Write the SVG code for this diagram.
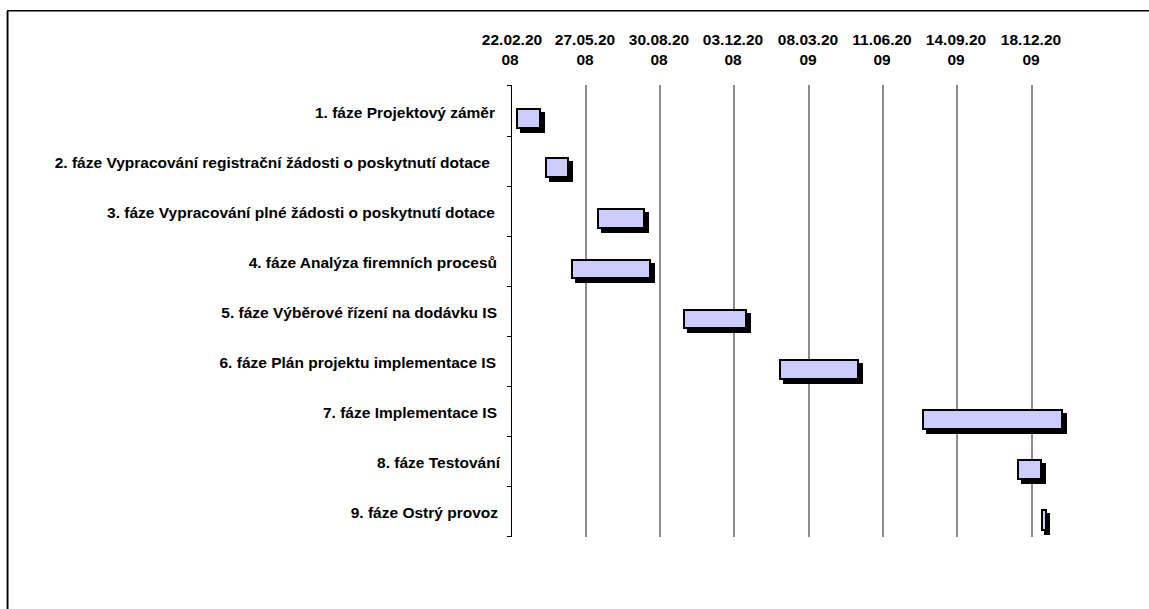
<svg xmlns="http://www.w3.org/2000/svg" width="1149" height="609" viewBox="0 0 1149 609">
  <style>
    .lbl { font-family: "Liberation Sans", Arial, sans-serif; font-weight: bold; font-size: 15.5px; fill: #000; }
    .task { text-anchor: end; }
    .date { text-anchor: middle; }
    .grid { stroke: #404040; stroke-width: 1.2; }
    .axis { stroke: #000; stroke-width: 1; }
    .bar { fill: #CCCCFF; stroke: #000; stroke-width: 2; }
    .shadow { fill: #000; }
  </style>

  <rect x="0" y="0" width="1149" height="609" fill="#fff"/>

  <!-- chart frame (continues past the right and bottom edges) -->
  <line x1="6.5" y1="11" x2="6.5" y2="609" stroke="#999" stroke-width="1"/>
  <rect x="7.75" y="10.75" width="1200" height="700" fill="none" stroke="#000" stroke-width="1.5"/>

  <!-- time scale labels -->
  <g id="timescale">
    <text class="lbl date" x="512" y="45">22.02.20</text><text class="lbl date" x="510" y="65">08</text>
    <text class="lbl date" x="585" y="45">27.05.20</text><text class="lbl date" x="585" y="65">08</text>
    <text class="lbl date" x="659" y="45">30.08.20</text><text class="lbl date" x="659" y="65">08</text>
    <text class="lbl date" x="733" y="45">03.12.20</text><text class="lbl date" x="733" y="65">08</text>
    <text class="lbl date" x="808" y="45">08.03.20</text><text class="lbl date" x="808" y="65">09</text>
    <text class="lbl date" x="882" y="45">11.06.20</text><text class="lbl date" x="882" y="65">09</text>
    <text class="lbl date" x="956" y="45">14.09.20</text><text class="lbl date" x="956" y="65">09</text>
    <text class="lbl date" x="1031" y="45">18.12.20</text><text class="lbl date" x="1031" y="65">09</text>
  </g>

  <!-- grid and category axis -->
  <g id="grid">
    <line class="grid" x1="586" y1="85" x2="586" y2="537"/>
    <line class="grid" x1="660" y1="85" x2="660" y2="537"/>
    <line class="grid" x1="734" y1="85" x2="734" y2="537"/>
    <line class="grid" x1="809" y1="85" x2="809" y2="537"/>
    <line class="grid" x1="883" y1="85" x2="883" y2="537"/>
    <line class="grid" x1="957" y1="85" x2="957" y2="537"/>
    <line class="grid" x1="1032" y1="85" x2="1032" y2="537"/>
    <line class="axis" x1="511.5" y1="85" x2="511.5" y2="537"/>
    <path class="axis" d="M507 85.5H511.5M507 136.5H511.5M507 186.5H511.5M507 236.5H511.5M507 286.5H511.5M507 336.5H511.5M507 386.5H511.5M507 436.5H511.5M507 486.5H511.5M507 536.5H511.5"/>
  </g>

  <!-- phases -->
  <g id="phase1">
    <text class="lbl task" x="495" y="118">1. fáze Projektový záměr</text>
    <rect class="shadow" x="520" y="112" width="25" height="21"/>
    <rect class="bar" x="517" y="109" width="23" height="19"/>
  </g>
  <g id="phase2">
    <text class="lbl task" x="490" y="168">2. fáze Vypracování registrační žádosti o poskytnutí dotace</text>
    <rect class="shadow" x="549" y="161" width="24" height="21"/>
    <rect class="bar" x="546" y="158" width="22" height="19"/>
  </g>
  <g id="phase3">
    <text class="lbl task" x="495" y="218">3. fáze Vypracování plné žádosti o poskytnutí dotace</text>
    <rect class="shadow" x="601" y="212" width="48" height="21"/>
    <rect class="bar" x="598" y="209" width="46" height="19"/>
  </g>
  <g id="phase4">
    <text class="lbl task" x="497" y="268">4. fáze Analýza firemních procesů</text>
    <rect class="shadow" x="575" y="263" width="80" height="20"/>
    <rect class="bar" x="572" y="260" width="78" height="18"/>
  </g>
  <g id="phase5">
    <text class="lbl task" x="497" y="318">5. fáze Výběrové řízení na dodávku IS</text>
    <rect class="shadow" x="687" y="313" width="64" height="20"/>
    <rect class="bar" x="684" y="310" width="62" height="18"/>
  </g>
  <g id="phase6">
    <text class="lbl task" x="496" y="368">6. fáze Plán projektu implementace IS</text>
    <rect class="shadow" x="783" y="363" width="80" height="21"/>
    <rect class="bar" x="780" y="360" width="78" height="19"/>
  </g>
  <g id="phase7">
    <text class="lbl task" x="497" y="418">7. fáze Implementace IS</text>
    <rect class="shadow" x="926" y="413" width="141" height="21"/>
    <rect class="bar" x="923" y="410" width="139" height="19"/>
  </g>
  <g id="phase8">
    <text class="lbl task" x="500" y="468">8. fáze Testování</text>
    <rect class="shadow" x="1021" y="463" width="25" height="21"/>
    <rect class="bar" x="1018" y="460" width="23" height="19"/>
  </g>
  <g id="phase9">
    <text class="lbl task" x="498" y="518">9. fáze Ostrý provoz</text>
    <rect class="shadow" x="1044" y="513" width="6" height="22"/>
    <rect class="bar" x="1042" y="510" width="4" height="20"/>
  </g>
</svg>
